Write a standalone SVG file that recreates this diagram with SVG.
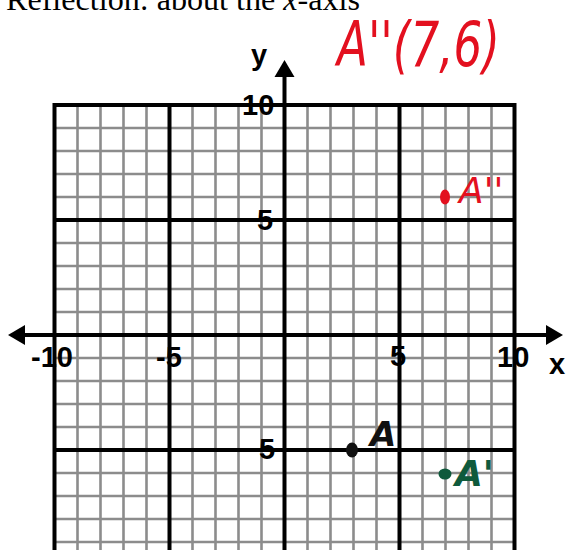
<svg xmlns="http://www.w3.org/2000/svg" width="570" height="550" viewBox="0 0 570 550">
<style>
.minor{stroke:#8c8c8c;stroke-width:2.6;fill:none}
.major{stroke:#000;stroke-width:4;fill:none}
.num{font-family:"Liberation Sans",Arial,sans-serif;font-weight:bold;font-size:29px;fill:#000}
.hand{font-family:"DejaVu Sans","Liberation Sans",sans-serif;font-style:italic}
</style>
<rect width="570" height="550" fill="#fff"/>
<text x="6" y="10" font-family="Liberation Serif,'Times New Roman',serif" font-size="32" fill="#000" textLength="354" lengthAdjust="spacingAndGlyphs">Reflection: about the <tspan font-style="italic">x</tspan>-axis</text>
<g id="grid">
<path class="minor" d="M77.5 105V550M100.5 105V550M123.5 105V550M146.5 105V550M192.5 105V550M215.5 105V550M238.5 105V550M261.5 105V550M307.5 105V550M330.5 105V550M353.5 105V550M376.5 105V550M422.5 105V550M445.5 105V550M468.5 105V550M491.5 105V550
M54.5 128H514.5M54.5 151H514.5M54.5 174H514.5M54.5 197H514.5M54.5 243H514.5M54.5 266H514.5M54.5 289H514.5M54.5 312H514.5M54.5 358H514.5M54.5 381H514.5M54.5 404H514.5M54.5 427H514.5M54.5 473H514.5M54.5 496H514.5M54.5 519H514.5M54.5 542H514.5"/>
<path class="major" d="M54.5 103V550M169.5 105V550M399.5 105V550M514.5 103V550M52.5 105H516.5M54.5 220H514.5M54.5 450H514.5"/>
</g>
<g id="axes">
<path class="major" d="M20 335H550M284.5 70V550"/>
<polygon points="563,335 546,325 546,345" fill="#000"/>
<polygon points="8,335 25,325 25,345" fill="#000"/>
<polygon points="284.5,60 274.5,77 294.5,77" fill="#000"/>
</g>
<g id="labels">
<text class="num" x="251" y="65" font-size="30">y</text>
<text class="num" x="549" y="374" font-size="30">x</text>
<text class="num" x="242" y="115">10</text>
<text class="num" x="257" y="230">5</text>
<text class="num" x="259" y="459">5</text>
<text class="num" x="31" y="367">-10</text>
<text class="num" x="156" y="367">-5</text>
<text class="num" x="390" y="366">5</text>
<text class="num" x="497" y="367">10</text>
</g>
<g id="A-double-prime-title">
<text class="hand" x="337" y="66" font-size="62" fill="#e3101f" textLength="163" lengthAdjust="spacingAndGlyphs">A''(7,6)</text>
</g>
<g id="A">
<ellipse cx="352" cy="450" rx="6" ry="7.5" fill="#111"/>
<text class="hand" x="370" y="446" font-size="34" font-weight="bold" fill="#111">A</text>
</g>
<g id="A-prime">
<ellipse cx="445" cy="474" rx="6.5" ry="5.5" fill="#0f5a3c"/>
<text class="hand" x="455" y="486" font-size="36" font-weight="bold" fill="#0f5a3c">A'</text>
</g>
<g id="A-double-prime">
<ellipse cx="445" cy="197" rx="5" ry="7.5" fill="#e3101f"/>
<text class="hand" x="459" y="203" font-size="36" fill="#e3101f">A''</text>
</g>
</svg>
